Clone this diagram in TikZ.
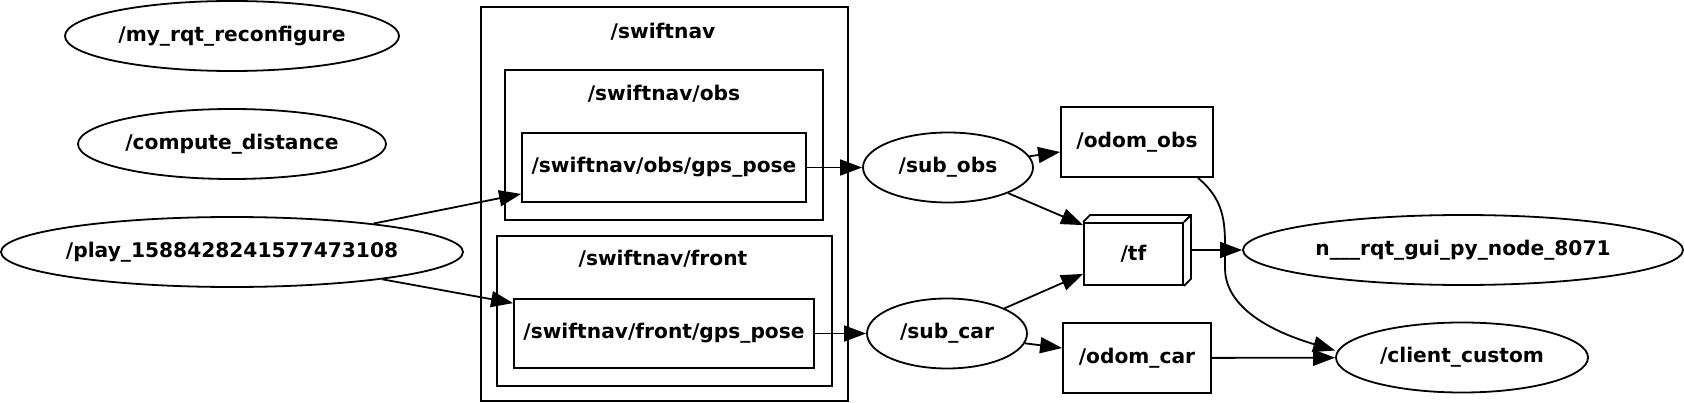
\documentclass[tikz,border=0pt]{standalone}
\usepackage{fontspec}
\setmainfont{DejaVu Sans}
\usetikzlibrary{shapes.geometric,arrows.meta}

\begin{document}
\begin{tikzpicture}[x=1pt, y=-1pt, line width=1.8pt, font=\fontsize{20.2}{22}\selectfont\bfseries, >={Triangle[length=22pt,width=16pt]},
	rosnode/.style={draw, ellipse, inner sep=0pt, minimum height=70pt},
	topicbox/.style={draw, rectangle, inner sep=0pt, minimum height=70pt},
	groupbox/.style={draw, rectangle, inner sep=0pt}]
	\useasboundingbox (0,0) rectangle (1684,403);
	\node[rosnode, minimum width=334pt] (reconf) at (232,36) {/my\_rqt\_reconfigure};
	\node[rosnode, minimum width=308pt] (compdist) at (232,144) {/compute\_distance};
	\node[rosnode, minimum width=462pt, inner xsep=-4pt] (play) at (232,252) {/play\_1588428241577473108};
	\node[groupbox, minimum width=367pt, minimum height=394pt] (swiftnav) at (664.5,204) {};
	\node (swiftnavlabel) at (663,32) {/swiftnav};
	\node[groupbox, minimum width=318pt, minimum height=150pt] (obsgroup) at (664,145) {};
	\node (obslabel) at (664,94) {/swiftnav/obs};
	\node[groupbox, minimum width=335pt, minimum height=150pt] (frontgroup) at (664.5,311) {};
	\node (frontlabel) at (663,259) {/swiftnav/front};
	\node[groupbox, minimum width=284pt, minimum height=69pt] (obsgps) at (664,167.5) {/swiftnav/obs/gps\_pose};
	\node[groupbox, minimum width=300pt, minimum height=69pt] (frontgps) at (664,333.5) {/swiftnav/front/gps\_pose};
	\node[rosnode, minimum width=170pt] (subobs) at (948,167.5) {/sub\_obs};
	\node[rosnode, minimum width=160pt] (subcar) at (947,333.5) {/sub\_car};
	\node[topicbox, minimum width=152pt] (odomobs) at (1137,142) {/odom\_obs};
	\node[topicbox, minimum width=148pt] (odomcar) at (1137,358) {/odom\_car};
	\node[groupbox, minimum width=99pt, minimum height=62pt] (tf) at (1133.5,254) {/tf};
	\draw (tf.north west) -- ++(7pt,7pt) -- ([shift={(7pt,7pt)}]tf.north east) -- ([shift={(7pt,7pt)}]tf.south east) -- (tf.south east) (tf.north east) -- ++(7pt,7pt);
	\node[rosnode, minimum width=440pt] (rqtgui) at (1463,250) {n\_\_\_rqt\_gui\_py\_node\_8071};
	\node[rosnode, minimum width=252pt] (client) at (1462,357.5) {/client\_custom};
	\draw[->] (play) -- ([yshift=9pt]obsgps.south west);
	\draw[->] (play) -- ([yshift=-5pt]frontgps.north west);
	\draw[->] (obsgps) -- (subobs);
	\draw[->] (frontgps) -- (subcar);
	\draw[->] (subobs) -- ([yshift=-10pt]odomobs.west);
	\draw[->] (subobs) -- ([yshift=-3pt]tf.north west);
	\draw[->] (subcar) -- ([yshift=12pt]tf.south west);
	\draw[->] (subcar) -- ([yshift=10pt]odomcar.west);
	\draw[->] ([shift={(7pt,4pt)}]tf.east) -- (rqtgui);
	\draw[->] (odomcar) -- (client);
	\draw[->] ([xshift=-16pt]odomobs.south east) .. controls (1222,198) and (1225,218) .. (1225,245) -- (1225,268) .. controls (1225,315) and (1290,337) .. ([yshift=7pt]client.west);
\end{tikzpicture}
\end{document}
